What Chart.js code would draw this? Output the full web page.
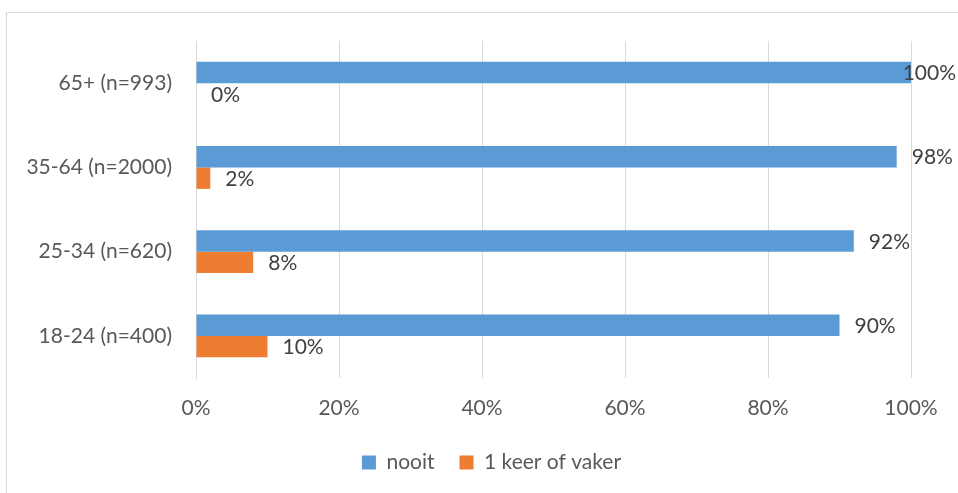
<!DOCTYPE html>
<html>
<head>
<meta charset="utf-8">
<script src="https://cdn.jsdelivr.net/npm/chart.js@4/dist/chart.umd.min.js"></script>
<style>
  html, body { margin: 0; padding: 0; background: #fff; }
  canvas { display: block; }
</style>
</head>
<body>
<canvas id="grafico" width="958" height="493"></canvas>
<script>
// data
const categorias = ['65+ (n=993)', '35-64 (n=2000)', '25-34 (n=620)', '18-24 (n=400)']
const nooit = [100, 98, 92, 90]
const keerOfVaker = [0, 2, 8, 10]
const seriesNamen = ['nooit', '1 keer of vaker']
const ticksX = [0, 20, 40, 60, 80, 100]

const fonte = 'Lato'

// draws the light frame round the chart
const kader = {
  id: 'kader',
  beforeDraw(chart) {
    const ctx = chart.ctx
    ctx.save()
    ctx.strokeStyle = '#d9d9d9'
    ctx.lineWidth = 1
    ctx.beginPath()
    ctx.moveTo(6.5, 493)
    ctx.lineTo(6.5, 12.5)
    ctx.lineTo(958, 12.5)
    ctx.stroke()
    ctx.restore()
  }
}

// legend in the reference sits a bit right of the canvas centre
const legendaSchuif = {
  id: 'legendaSchuif',
  afterLayout(chart) {
    chart.legend.left += 36
    chart.legend.right += 36
  }
}

// value labels right of each bar
const waardeLabels = {
  id: 'waardeLabels',
  afterDatasetsDraw(chart) {
    const ctx = chart.ctx
    ctx.save()
    ctx.font = '21px ' + fonte
    ctx.fillStyle = '#404040'
    ctx.textAlign = 'left'
    ctx.textBaseline = 'middle'
    chart.data.datasets.forEach((ds, i) => {
      chart.getDatasetMeta(i).data.forEach((bar, j) => {
        const tekst = ds.data[j] + '%'
        const w = ctx.measureText(tekst).width
        let x = bar.x + 15
        if (x + w > 956) x = 956 - w
        ctx.fillText(tekst, x, bar.y + 1)
      })
    })
    ctx.restore()
  }
}

const ctx = document.getElementById('grafico')

const chart = new Chart(ctx, {
  type: 'bar',
  data: {
    labels: categorias,
    datasets: [
      {
        label: seriesNamen[0],
        data: nooit,
        backgroundColor: '#5B9BD5',
        categoryPercentage: 0.51,
        barPercentage: 1
      },
      {
        label: seriesNamen[1],
        data: keerOfVaker,
        backgroundColor: '#ED7D31',
        categoryPercentage: 0.51,
        barPercentage: 1
      }
    ]
  },
  options: {
    indexAxis: 'y',
    responsive: false,
    animation: false,
    layout: {
      padding: { left: 0, top: 41, right: 47, bottom: 10 }
    },
    scales: {
      x: {
        min: 0,
        max: 100,
        afterBuildTicks(scale) {
          scale.ticks = ticksX.map(v => ({ value: v }))
        },
        afterFit(scale) {
          scale.height = 493 - 10 - scale.chart.legend.height - 378
        },
        ticks: {
          padding: 18,
          color: '#595959',
          font: { family: fonte, size: 21 },
          callback: v => v + '%'
        },
        grid: { color: '#d9d9d9', drawTicks: false },
        border: { display: false }
      },
      y: {
        afterFit(scale) {
          scale.width = 196
        },
        ticks: {
          padding: 24,
          color: '#595959',
          font: { family: fonte, size: 21 }
        },
        grid: { display: false, drawTicks: false },
        border: { color: '#d9d9d9' }
      }
    },
    plugins: {
      legend: {
        position: 'bottom',
        labels: {
          boxWidth: 14,
          boxHeight: 14,
          padding: 25,
          color: '#595959',
          font: { family: fonte, size: 21 }
        }
      },
      tooltip: { enabled: false }
    }
  },
  plugins: [kader, legendaSchuif, waardeLabels]
})
</script>
</body>
</html>
